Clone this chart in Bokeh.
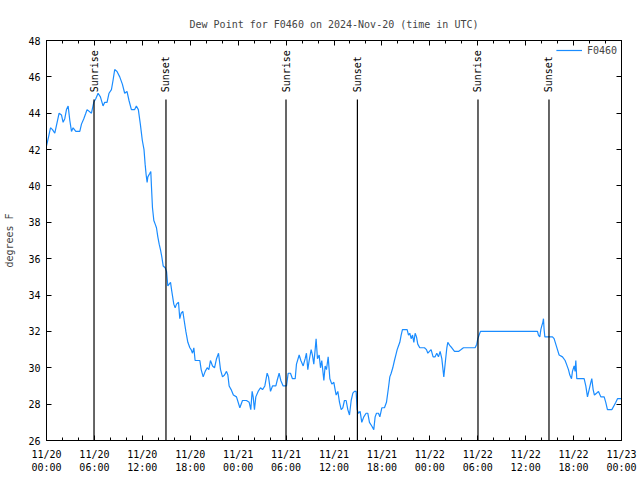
import numpy as np
from bokeh.plotting import figure
from bokeh.models import Range1d, FixedTicker, LinearAxis, Legend, LegendItem
from bokeh.core.properties import value
from bokeh.embed import file_html
from bokeh.resources import INLINE

# hours since 2024-11-20 00:00 UTC
hours = [0, 0.21, 0.5, 0.75, 1.04, 1.33, 1.58, 1.88, 2.08, 2.29, 2.5, 2.71, 2.92, 3.13, 3.33, 3.67,
         4.17, 4.38, 4.67, 4.92, 5.08, 5.63, 5.92, 6.17, 6.46, 6.75, 7.08, 7.29, 7.58, 7.83, 8.13,
         8.33, 8.54, 8.83, 9.17, 9.5, 9.79, 10.08, 10.33, 10.63, 11.04, 11.25, 11.5, 11.75, 12.0,
         12.21, 12.35, 12.48, 12.6, 12.69, 12.94, 13.06, 13.15, 13.27, 13.44, 13.61, 13.77, 13.94,
         14.11, 14.27, 14.44, 14.61, 14.86, 15.03, 15.19, 15.36, 15.53, 15.69, 15.94, 16.11, 16.28,
         16.53, 16.69, 16.86, 17.07, 17.24, 17.45, 17.7, 17.95, 18.11, 18.28, 18.45, 18.61, 19.2,
         19.37, 19.62, 19.87, 20.12, 20.33, 20.53, 20.79, 21.04, 21.29, 21.54, 21.79, 22.04, 22.29,
         22.54, 22.71, 22.87, 23.12, 23.4, 23.79, 24.21, 24.54, 25.04, 25.38, 25.58, 25.75, 25.88,
         26.04, 26.21, 26.5, 26.8, 27.05, 27.34, 27.63, 27.8, 28.05, 28.3, 28.72, 28.88, 29.13,
         29.34, 29.63, 30.05, 30.26, 30.55, 30.8, 31.14, 31.3, 31.64, 31.85, 32.14, 32.39, 32.55,
         32.72, 32.89, 33.14, 33.3, 33.47, 33.64, 33.76, 33.93, 34.14, 34.31, 34.47, 34.73, 34.89,
         35.06, 35.27, 35.48, 35.73, 35.98, 36.1, 36.27, 36.48, 36.69, 36.9, 37.1, 37.31, 37.52,
         37.73, 37.94, 38.15, 38.36, 38.56, 38.77, 38.9, 39.06, 39.27, 39.48, 39.73, 40.02, 40.23,
         40.44, 40.73, 40.98, 41.15, 41.32, 41.57, 41.74, 41.99, 42.32, 42.57, 42.82, 42.99, 43.16,
         43.36, 43.57, 43.74, 43.91, 44.07, 44.24, 44.41, 44.57, 45.16, 45.33, 45.49, 45.66, 45.83,
         46.0, 46.16, 46.33, 46.49, 46.74, 47.33, 47.58, 47.75, 47.95, 48.16, 48.41, 48.66, 48.87,
         49.08, 49.29, 49.5, 49.75, 49.96, 50.13, 50.25, 50.54, 50.75, 51.09, 51.59, 51.92, 52.21,
         53.67, 53.88, 54.01, 54.17, 54.34, 61.48, 61.6, 61.77, 61.9, 62.02, 62.15, 62.23, 62.31,
         62.4, 63.36, 63.56, 63.77, 63.98, 64.19, 64.61, 64.94, 65.11, 65.36, 65.53, 65.74, 65.86,
         66.07, 66.19, 66.28, 66.4, 67.32, 67.53, 67.74, 67.95, 68.16, 68.28, 68.45, 68.61, 68.87,
         69.12, 69.41, 69.83, 70.03, 70.24, 70.79, 71.04, 71.29, 71.5, 71.96]

dew_f = [42.2, 42.6, 43.2, 43.1, 42.9, 43.5, 44.0, 43.9, 43.5, 43.7, 44.2, 44.4, 43.6, 43.0, 43.2, 43.0,
         43.0, 43.4, 43.7, 44.0, 44.2, 44.0, 44.6, 44.8, 45.1, 44.9, 44.4, 44.6, 44.6, 45.1, 45.3,
         45.8, 46.4, 46.3, 46.0, 45.6, 45.1, 45.2, 44.7, 44.2, 44.2, 44.4, 44.2, 43.4, 42.5,
         42.0, 41.2, 40.6, 40.2, 40.5, 40.7, 40.8, 39.9, 38.8, 38.1, 37.9, 37.7, 37.2,
         36.8, 36.5, 36.1, 35.6, 35.5, 35.3, 34.5, 34.6, 34.7, 34.2, 33.5, 33.3, 33.5,
         33.6, 32.7, 33.0, 33.1, 32.6, 32.0, 31.4, 31.1, 31.0, 30.8, 31.1, 30.4, 30.4,
         29.9, 29.5, 29.8, 30.0, 29.9, 30.4, 30.1, 30.0, 30.5, 30.8, 29.9, 29.5, 29.6,
         29.8, 29.6, 29.0, 28.8, 28.5, 28.4, 27.8, 28.2, 28.2, 28.1, 27.7, 28.7, 28.4,
         27.7, 28.4, 28.7, 28.9, 28.8, 29.0, 29.7, 29.5, 28.7, 29.0, 29.0, 29.3, 29.7,
         29.3, 29.0, 29.0, 29.7, 29.7, 29.4, 29.4, 30.2, 30.7, 30.4, 30.1, 30.5, 30.8,
         29.9, 30.4, 31.0, 30.7, 30.2, 31.0, 31.6, 30.5, 30.7, 30.0, 30.4, 29.3, 30.1,
         29.9, 30.6, 29.4, 29.1, 29.2, 28.9, 28.5, 28.7, 28.1, 27.7, 27.8, 28.2, 28.2,
         27.7, 27.4, 28.2, 28.6, 28.7, 28.7, 27.7, 27.5, 27.6, 27.0, 27.3, 27.5, 27.5,
         27.0, 26.8, 26.6, 27.3, 27.5, 27.5, 27.3, 27.8, 27.8, 28.1, 28.9, 29.5, 29.7,
         30.0, 30.4, 30.7, 31.0, 31.2, 31.4, 31.8, 32.1, 32.1, 31.8, 31.9, 31.6, 31.8,
         31.4, 31.9, 31.7, 31.3, 31.1, 31.1, 31.0, 30.8, 30.9, 31.0, 30.6, 30.6, 30.8,
         30.6, 30.9, 30.5, 29.5, 30.4, 31.1, 31.4, 31.2, 31.1, 30.9, 30.9, 31.0, 31.1,
         31.1, 31.3, 31.6, 31.8, 32.0, 32.0, 31.8, 31.7, 32.1, 32.3, 32.5, 32.7, 32.1,
         31.7, 31.7, 31.6, 31.3, 31.0, 30.7, 30.6, 30.4, 30.2, 29.9, 29.6, 29.4, 29.8,
         30.1, 29.8, 30.4, 29.4, 29.4, 29.0, 28.4, 28.8, 29.2, 29.4, 28.8, 28.5, 28.6,
         28.7, 28.4, 28.4, 28.1, 27.7, 27.7, 27.9, 28.1, 28.3, 28.3]

sunrise_hours = [5.95, 29.99, 54.03]
sunset_hours = [14.96, 38.93, 62.92]

tick_hours = [0, 6, 12, 18, 24, 30, 36, 42, 48, 54, 60, 66, 72]
tick_labels = ["11/20\n00:00", "11/20\n06:00", "11/20\n12:00", "11/20\n18:00",
               "11/21\n00:00", "11/21\n06:00", "11/21\n12:00", "11/21\n18:00",
               "11/22\n00:00", "11/22\n06:00", "11/22\n12:00", "11/22\n18:00",
               "11/23\n00:00"]
minor_hours = [h for h in range(0, 73, 2) if h % 6 != 0]
y_ticks = [26, 28, 30, 32, 34, 36, 38, 40, 42, 44, 46, 48]

FONT = "DejaVu Sans Mono"
FS = "10px"

p = figure(width=640, height=480, output_backend="svg", toolbar_location=None,
           x_range=Range1d(0, 72), y_range=Range1d(26, 48),
           min_border_left=46, min_border_right=19, min_border_top=40, min_border_bottom=40,
           title="Dew Point for F0460 on 2024-Nov-20 (time in UTC)")
p.title.align = "center"
p.title.text_font = FONT
p.title.text_font_size = FS
p.title.text_font_style = "normal"
p.title.standoff = 22
p.grid.visible = False
p.outline_line_color = "black"
p.background_fill_color = "white"
p.border_fill_color = "white"

xt = FixedTicker(ticks=tick_hours, minor_ticks=minor_hours)
yt = FixedTicker(ticks=y_ticks)

def style_axis(ax):
    ax.axis_line_color = "black"
    ax.major_tick_in = 5
    ax.major_tick_out = 0
    ax.minor_tick_in = 3
    ax.minor_tick_out = 0
    ax.major_label_text_font = FONT
    ax.major_label_text_font_size = FS
    ax.major_label_text_color = "black"

xa = p.xaxis[0]
xa.ticker = xt
xa.major_label_overrides = {h: lab for h, lab in zip(tick_hours, tick_labels)}
style_axis(xa)
xa.major_label_standoff = 8

ya = p.yaxis[0]
ya.ticker = yt
style_axis(ya)
ya.minor_tick_in = 0
ya.major_label_standoff = 6
ya.axis_label = "degrees F"
ya.axis_label_text_font = FONT
ya.axis_label_text_font_size = FS
ya.axis_label_text_font_style = "normal"
ya.axis_label_standoff = 10

# mirrored tick marks on top and right (no labels)
top = LinearAxis(ticker=xt)
style_axis(top)
top.major_label_overrides = {h: "" for h in tick_hours}
top.major_label_standoff = 0
p.add_layout(top, "above")

right = LinearAxis(ticker=yt)
style_axis(right)
right.minor_tick_in = 0
right.major_label_overrides = {t: "" for t in y_ticks}
right.major_label_standoff = 0
p.add_layout(right, "right")

r = p.line(hours, dew_f, line_color="#1a8cff", line_width=1.2)

events = sunrise_hours + sunset_hours
names = ["Sunrise"] * len(sunrise_hours) + ["Sunset"] * len(sunset_hours)
p.segment(x0=events, y0=[26] * len(events), x1=events, y1=[44.75] * len(events),
          line_color="black", line_width=1.2)
p.text(x=events, y=[45.15] * len(events), text=names, angle=np.pi / 2,
       text_align="left", text_baseline="middle", text_font=value(FONT),
       text_font_size=FS, text_color="black")

legend = Legend(items=[LegendItem(label="F0460", renderers=[r])], location="top_right",
                border_line_alpha=0, background_fill_alpha=0, margin=2, padding=2,
                glyph_width=26, label_text_font=FONT, label_text_font_size=FS,
                label_height=12, glyph_height=12)
p.add_layout(legend)

open("out.html", "w").write(file_html(p, INLINE))
